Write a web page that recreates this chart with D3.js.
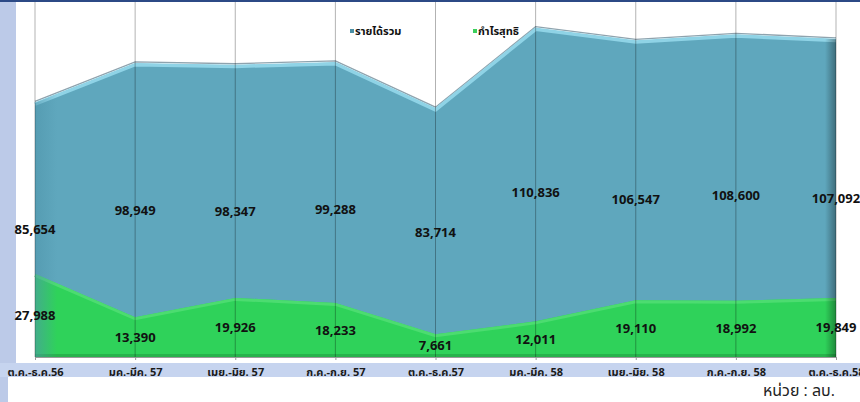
<!DOCTYPE html>
<html>
<head>
<meta charset="utf-8">
<script src="https://cdn.jsdelivr.net/npm/d3@7"></script>
<style>
  body { margin: 0; background: #fff; }
  svg { display: block; }
  text { font-family: "Open Sans", "Noto Sans Thai", Tahoma, sans-serif; }
</style>
</head>
<body>
<svg width="860" height="402"></svg>
<script>
// data
const periods = ['ต.ค.-ธ.ค.56', 'มค.-มีค. 57', 'เมย.-มิย. 57', 'ก.ค.-ก.ย. 57', 'ต.ค.-ธ.ค.57',
                 'มค.-มีค. 58', 'เมย.-มิย. 58', 'ก.ค.-ก.ย. 58', 'ต.ค.-ธ.ค.58']
const revenue = [85654, 98949, 98347, 99288, 83714, 110836, 106547, 108600, 107092]
const profit = [27988, 13390, 19926, 18233, 7661, 12011, 19110, 18992, 19849]
const seriesNames = ['รายได้รวม', 'กำไรสุทธิ']

const svg = d3.select('svg')
const width = +svg.attr('width')
const height = +svg.attr('height')

const fmt = d3.format(',')

// scales
const x = d3.scalePoint()
    .domain(periods)
    .range([35, 836])
const y = d3.scaleLinear()
    .domain([0, 120000])
    .range([357, 1])

const defs = svg.append('defs')

// right side 3D shade
const shade = defs.append('linearGradient').attr('id', 'rshade')
shade.append('stop').attr('offset', '0%').attr('stop-color', '#000').attr('stop-opacity', 0)
shade.append('stop').attr('offset', '100%').attr('stop-color', '#000').attr('stop-opacity', 0.35)

const lshade = defs.append('linearGradient').attr('id', 'lshade')
lshade.append('stop').attr('offset', '0%').attr('stop-color', '#4f95ab').attr('stop-opacity', 0.6)
lshade.append('stop').attr('offset', '100%').attr('stop-color', '#4f95ab').attr('stop-opacity', 0)

// background pieces
svg.append('rect').attr('x', 0).attr('y', 0).attr('width', 16).attr('height', height)
    .attr('fill', '#bccae8')
svg.append('rect').attr('x', 0).attr('y', 363).attr('width', width).attr('height', 14)
    .attr('fill', '#c6d4ef')
svg.append('rect').attr('x', 8).attr('y', 377).attr('width', width - 8).attr('height', height - 377)
    .attr('fill', '#fff')
svg.append('rect').attr('x', 0).attr('y', 0).attr('width', width).attr('height', 2)
    .attr('fill', '#2c4a86')

// areas
const area = d3.area()
    .x((d, i) => x(periods[i]))
    .y0(y(0))
    .y1(d => y(d))
const line = d3.line()
    .x((d, i) => x(periods[i]))
    .y(d => y(d))

// revenue, with a lighter top face like the 3D chart
svg.append('path')
    .attr('d', line(revenue))
    .attr('transform', 'translate(0,-1.5)')
    .attr('fill', 'none')
    .attr('stroke', '#8ea3ae')
    .attr('stroke-width', 1.3)
svg.append('path')
    .attr('d', area(revenue))
    .attr('fill', '#5fa7bd')
svg.append('path')
    .attr('d', line(revenue))
    .attr('transform', 'translate(0,1.2)')
    .attr('fill', 'none')
    .attr('stroke', '#8fd3e6')
    .attr('stroke-width', 3.5)

// profit
svg.append('path')
    .attr('d', area(profit))
    .attr('fill', '#2fd25a')
svg.append('path')
    .attr('d', line(profit))
    .attr('transform', 'translate(0,1.5)')
    .attr('fill', 'none')
    .attr('stroke', '#4cdc70')
    .attr('stroke-width', 3)
svg.append('rect')
    .attr('x', 35).attr('y', 354).attr('width', 801).attr('height', 3)
    .attr('fill', '#27b34c')

// 3D side shading
defs.append('clipPath').attr('id', 'revClip')
    .append('path').attr('d', area(revenue))
svg.append('rect')
    .attr('x', 825).attr('y', 0).attr('width', 11).attr('height', 357)
    .attr('fill', 'url(#rshade)')
    .attr('clip-path', 'url(#revClip)')
svg.append('rect')
    .attr('x', 35).attr('y', 0).attr('width', 22).attr('height', 357)
    .attr('fill', 'url(#lshade)')
    .attr('clip-path', 'url(#revClip)')

// gridlines on category ticks
svg.append('g')
    .selectAll('line')
    .data(periods)
    .join('line')
        .attr('x1', d => x(d)).attr('x2', d => x(d))
        .attr('y1', 2).attr('y2', 357)
        .attr('stroke', '#000')
        .attr('stroke-opacity', 0.3)

// x axis
const xAxis = svg.append('g')
    .attr('transform', `translate(0, ${y(0)})`)
    .call(d3.axisBottom(x).tickSize(3).tickSizeOuter(0).tickPadding(8))
xAxis.select('.domain').attr('stroke', '#9a9a9a')
xAxis.selectAll('.tick line').attr('stroke', '#9a9a9a')
xAxis.selectAll('.tick text')
    .attr('font-size', 11)
    .attr('font-weight', 'bold')
    .attr('fill', '#1a1a1a')

// value labels at mid height
svg.append('g')
    .selectAll('text')
    .data(revenue)
    .join('text')
        .attr('x', (d, i) => x(periods[i]))
        .attr('y', d => y(d / 2))
        .attr('dy', '0.35em')
        .attr('text-anchor', 'middle')
        .attr('font-size', 13)
        .attr('font-weight', 'bold')
        .attr('fill', '#111')
        .text(d => fmt(d))

svg.append('g')
    .selectAll('text')
    .data(profit)
    .join('text')
        .attr('x', (d, i) => x(periods[i]))
        .attr('y', d => y(d / 2))
        .attr('dy', '0.35em')
        .attr('text-anchor', 'middle')
        .attr('font-size', 13)
        .attr('font-weight', 'bold')
        .attr('fill', '#111')
        .text(d => fmt(d))

// legend
const legendColors = ['#4a8fa5', '#3ccf5c']
const legendX = [350, 473]
const legend = svg.append('g')
    .selectAll('g')
    .data(seriesNames)
    .join('g')
        .attr('transform', (d, i) => `translate(${legendX[i]}, 31)`)
legend.append('rect')
    .attr('x', 0).attr('y', -2).attr('width', 4).attr('height', 4)
    .attr('fill', (d, i) => legendColors[i])
legend.append('text')
    .attr('x', 5)
    .attr('dy', '0.35em')
    .attr('font-size', 11)
    .attr('font-weight', 'bold')
    .attr('fill', '#111')
    .text(d => d)

// unit note
svg.append('text')
    .attr('x', 835).attr('y', 396)
    .attr('text-anchor', 'end')
    .attr('font-size', 16)
    .attr('fill', '#222')
    .text('หน่วย : ลบ.')
</script>
</body>
</html>
